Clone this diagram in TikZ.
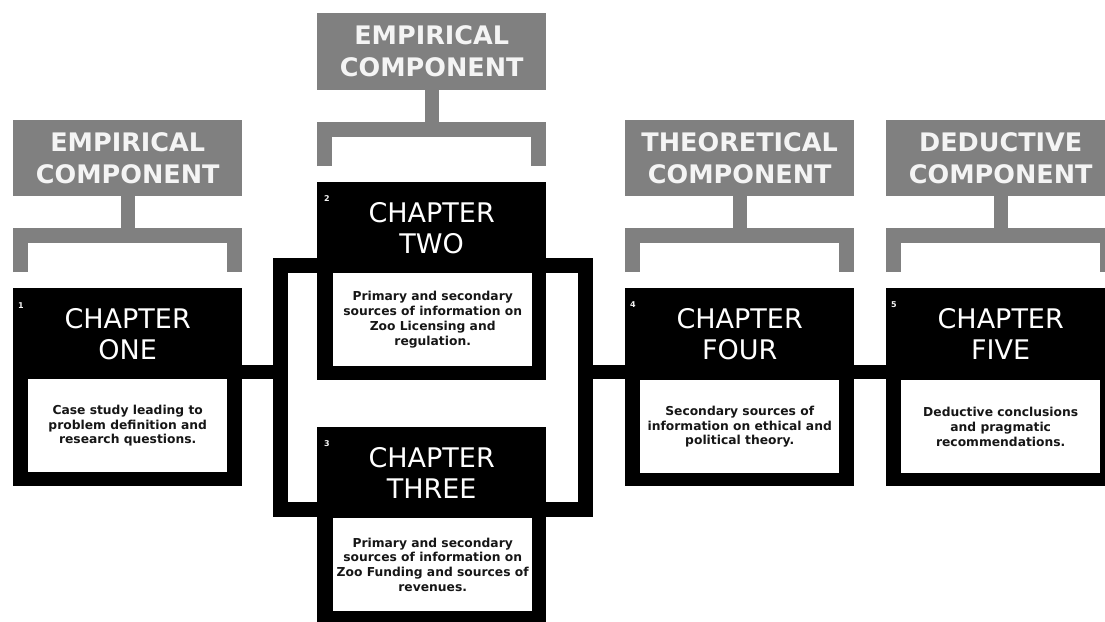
\documentclass[tikz,border=0pt]{standalone}
\usepackage{fontspec}
\setmainfont{DejaVu Sans}
\usetikzlibrary{calc}
\definecolor{lblgray}{RGB}{128,128,128}
\definecolor{lbltext}{RGB}{244,244,244}
\definecolor{desctext}{RGB}{22,22,22}
\begin{document}
\begin{tikzpicture}[x=1pt,y=-1pt,
  chbox/.style={fill=black, minimum width=229pt, minimum height=198pt, anchor=north west, inner sep=0pt},
  descbox/.style={fill=white, minimum width=199pt, minimum height=93pt, anchor=north west, inner sep=0pt, align=center, text=desctext, font=\fontsize{12.3}{14.8}\selectfont\bfseries},
  titletext/.style={text=white, align=center, inner sep=0pt, font=\fontsize{27}{31}\selectfont},
  numtext/.style={text=lbltext, inner sep=0pt, font=\fontsize{8}{9}\selectfont\bfseries},
  gbox/.style={fill=lblgray, minimum width=229pt, minimum height=76pt, anchor=north west, inner sep=0pt, align=center, text=lbltext, font=\fontsize{25.5}{32}\selectfont\bfseries},
  gline/.style={draw=lblgray, line width=15pt},
  conn/.style={draw=black, line width=14pt},
  bracketbox/.style={draw=black, line width=15pt, minimum width=305pt, minimum height=244pt, inner sep=0pt}
]
\useasboundingbox (0,0) rectangle (1105,621);
\clip (0,0) rectangle (1105,621);
\fill[white] (0,0) rectangle (1105,621);

% bracket around chapters two and three
\node[bracketbox] (br) at (433,387.5) {};
\coordinate (cy) at (0,372);

% chapter boxes
\node[chbox] (c1) at (13,288) {};
\node[chbox] (c2) at (317,182) {};
\node[chbox] (c3) at (317,427) {};
\node[chbox] (c4) at (625,288) {};
\node[chbox] (c5) at (886,288) {};

% connectors
\draw[conn] (c1.east |- cy) -- (br.west |- cy);
\draw[conn] (br.east |- cy) -- (c4.west |- cy);
\draw[conn] (c4.east |- cy) -- (c5.west |- cy);

% titles
\node[titletext] (t1) at ($(c1.north)+(0,46)$) {CHAPTER\\ONE};
\node[titletext] (t2) at ($(c2.north)+(0,46)$) {CHAPTER\\TWO};
\node[titletext] (t3) at ($(c3.north)+(0,46)$) {CHAPTER\\THREE};
\node[titletext] (t4) at ($(c4.north)+(0,46)$) {CHAPTER\\FOUR};
\node[titletext] (t5) at ($(c5.north)+(0,46)$) {CHAPTER\\FIVE};

% numbers
\node[numtext] (n1) at ($(c1.north west)+(8,18)$) {1};
\node[numtext] (n2) at ($(c2.north west)+(10,17)$) {2};
\node[numtext] (n3) at ($(c3.north west)+(10,17)$) {3};
\node[numtext] (n4) at ($(c4.north west)+(8,17)$) {4};
\node[numtext] (n5) at ($(c5.north west)+(8,17)$) {5};

% descriptions
\node[descbox] (d1) at ($(c1.north west)+(15,91)$) {Case study leading to\\problem definition and\\research questions.};
\node[descbox] (d2) at ($(c2.north west)+(16,91)$) {Primary and secondary\\sources of information on\\Zoo Licensing and\\regulation.};
\node[descbox] (d3) at ($(c3.north west)+(16,91)$) {Primary and secondary\\sources of information on\\Zoo Funding and sources of\\revenues.};
\node[descbox] (d4) at ($(c4.north west)+(15,92)$) {Secondary sources of\\information on ethical and\\political theory.};
\node[descbox] (d5) at ($(c5.north west)+(15,92)$) {Deductive conclusions\\and pragmatic\\recommendations.};

% component labels
\node[gbox] (g1) at (13,120) {EMPIRICAL\\COMPONENT};
\node[gbox, minimum height=77pt] (g2) at (317,13) {EMPIRICAL\\COMPONENT};
\node[gbox] (g4) at (625,120) {THEORETICAL\\COMPONENT};
\node[gbox] (g5) at (886,120) {DEDUCTIVE\\COMPONENT};

% gray brackets
\foreach \g/\c in {g1/c1, g2/c2, g4/c4, g5/c5} {
  \draw[gline] ($(\c.north west)+(7.5,-16)$) -- ($(\g.south west)+(7.5,39)$) -- ($(\g.south east)+(-7.5,39)$) -- ($(\c.north east)+(-7.5,-16)$);
  \draw[gline, line width=14pt] (\g.south) -- ($(\g.south)+(0,33)$);
}
\end{tikzpicture}
\end{document}
